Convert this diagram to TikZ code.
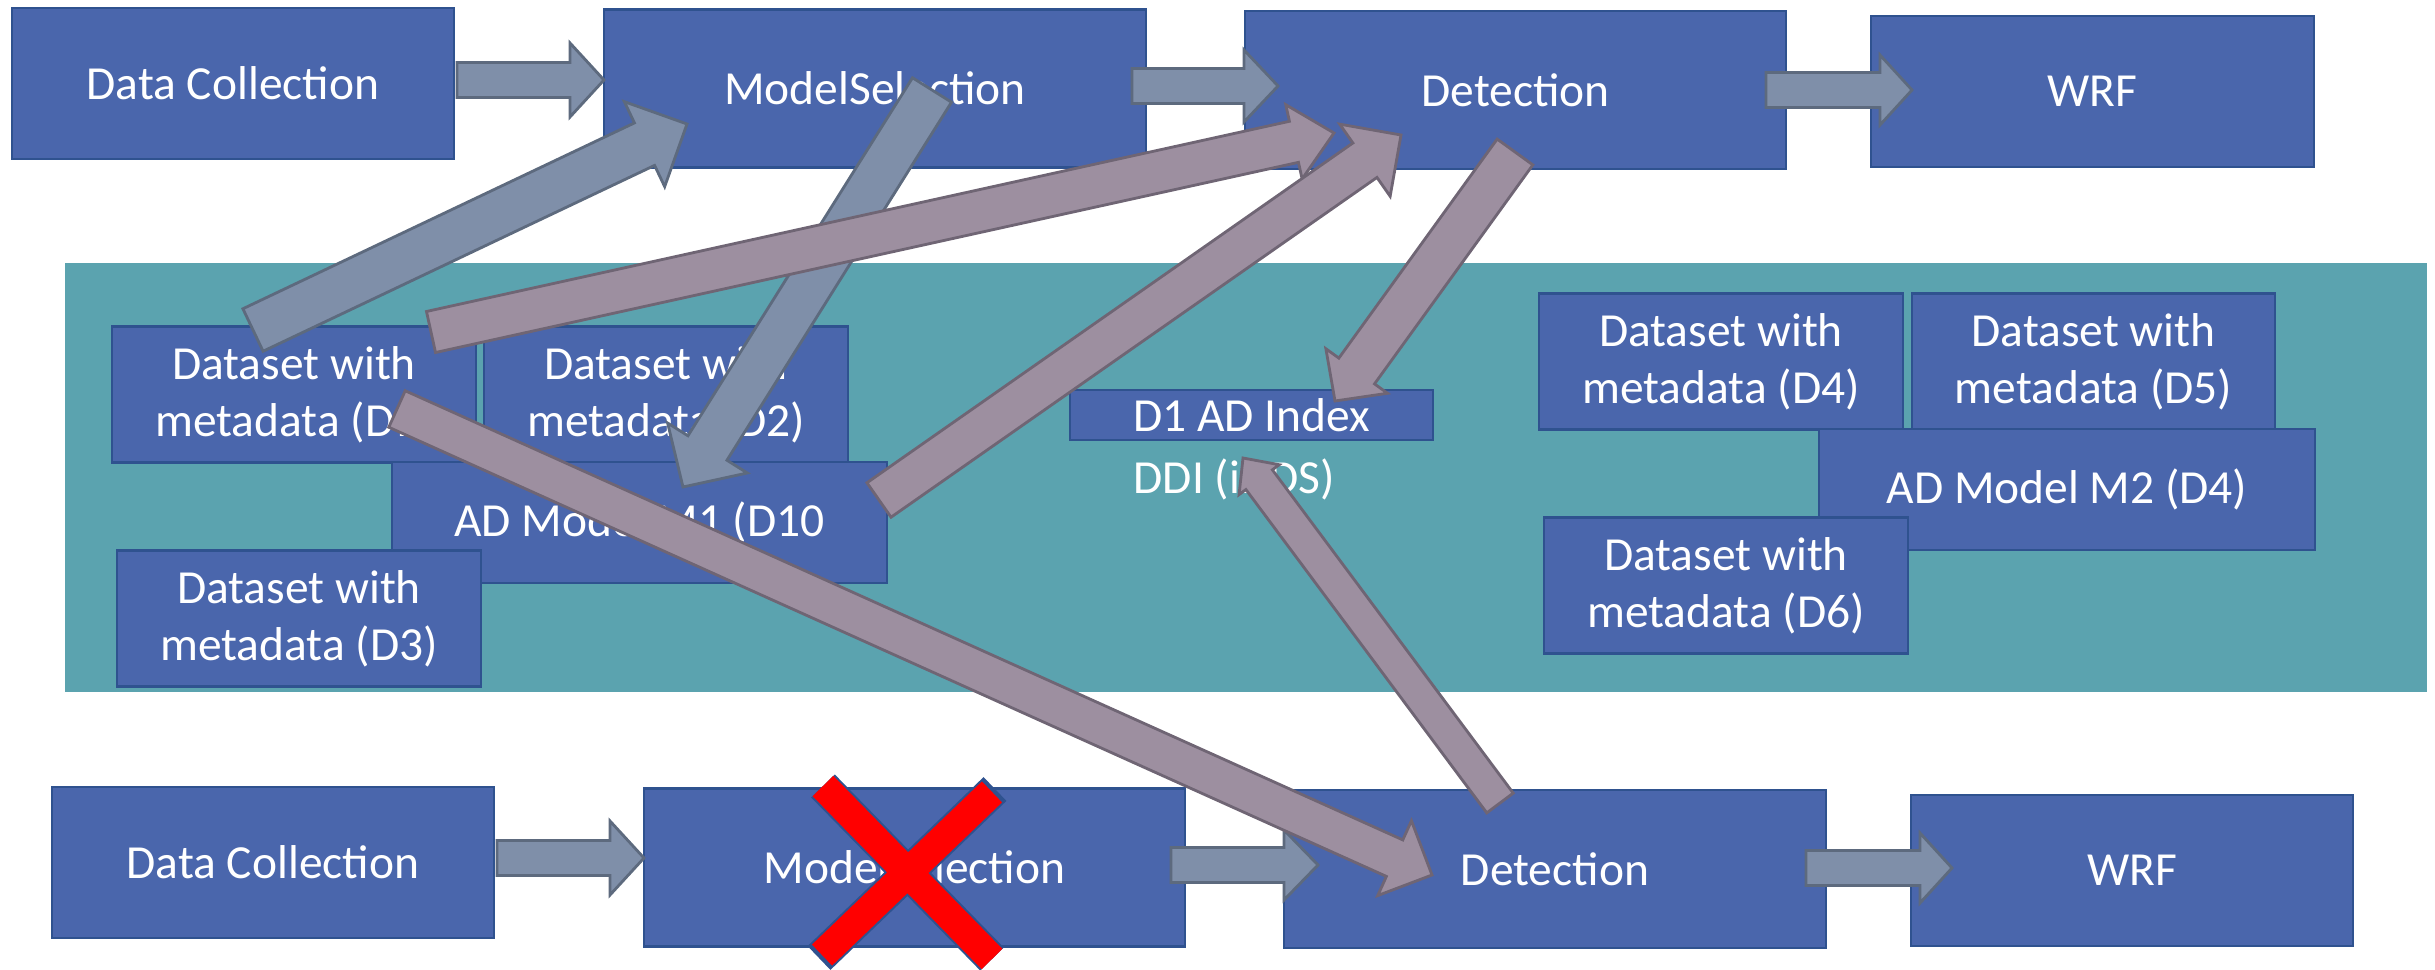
\documentclass[tikz,border=0pt]{standalone}
\usepackage{fontspec}
\setmainfont{Carlito}
\usetikzlibrary{calc}
\definecolor{boxblue}{HTML}{4A66AC}
\definecolor{boxedge}{HTML}{2F528F}
\definecolor{band}{HTML}{5BA3AF}
\definecolor{flowgrey}{HTML}{7F8FA9}
\definecolor{flowedge}{HTML}{5D6A7E}
\definecolor{linkmauve}{HTML}{9D8FA0}
\definecolor{linkedge}{HTML}{6F6574}
\definecolor{crossred}{HTML}{FF0000}
\tikzset{
  box/.style={draw=boxedge, line width=0.6pt, fill=boxblue, text=white, align=center, inner sep=0pt,
    font=\fontsize{13.5pt}{16.2pt}\selectfont},
  stage/.style={box, minimum width=4.42cm, minimum height=1.51cm},
  bigstage/.style={box, minimum width=5.41cm, minimum height=1.58cm},
  dset/.style={box, minimum width=3.63cm, minimum height=1.36cm},
  model/.style={box, minimum width=4.95cm, minimum height=1.21cm},
  flow/.style={draw=flowedge, line width=0.8pt, fill=flowgrey},
  link/.style={draw=linkedge, line width=0.8pt, fill=linkmauve},
  xout/.style={draw=boxedge, line width=0.33cm},
  xin/.style={draw=crossred, line width=0.29cm, shorten <=1.2pt, shorten >=1.2pt}
}
\def\blockarrow[#1](#2)(#3)(#4:#5:#6){%
  \coordinate (neck) at ($(#3)!#6!(#2)$);
  \draw[#1] ($(#2)!#4!-90:(#3)$) -- ($(neck)!#4!-90:(#3)$) -- ($(neck)!#5!-90:(#3)$) -- (#3)
    -- ($(neck)!#5!90:(#3)$) -- ($(neck)!#4!90:(#3)$) -- ($(#2)!#4!90:(#3)$) -- cycle;}

\begin{document}
\begin{tikzpicture}[x=0.01cm, y=-0.01cm]
	%%%%% START %%%%%
	\useasboundingbox (0,0) rectangle (2435,970);
	
	\node[fill=band, minimum width=23.60cm, minimum height=4.29cm, inner sep=0pt] (pool) at (1246,477.5) {};
	
	\node[stage] (dc1) at (233,83.5) {Data Collection};
	\node[bigstage] (ms1) at (875,88.5) {ModelSelection};
	\node[bigstage] (det1) at (1515.5,90) {Detection};
	\node[stage] (wrf1) at (2092.5,91.5) {WRF};
	
	\node[dset] (d1) at (294,394.5) {Dataset with\\metadata (D1)};
	\node[dset] (d2) at (666,394.5) {Dataset with\\metadata (D2)};
	\node[model] (m1) at (639.5,522.5) {AD Model M1 (D10};
	\node[dset] (d3) at (299,618.5) {Dataset with\\metadata (D3)};
	
	\node[box, minimum width=3.63cm, minimum height=0.50cm] (idx) at (1251.5,415) {D1 AD Index};
	\node[text=white, inner sep=0pt, anchor=base west, font=\fontsize{13.5pt}{16.2pt}\selectfont] (ddi) at (1133,493) {DDI (iDDS)};
	
	\node[dset] (d4) at (1721,361.5) {Dataset with\\metadata (D4)};
	\node[dset] (d5) at (2093.5,361.5) {Dataset with\\metadata (D5)};
	\node[model] (m2) at (2067,489.5) {AD Model M2 (D4)};
	\node[dset] (d6) at (1726,585.5) {Dataset with\\metadata (D6)};
	
	\node[stage] (dc2) at (273,862.5) {Data Collection};
	\node[bigstage] (ms2) at (914.5,867.5) {ModelSelection};
	\node[bigstage] (det2) at (1555,869) {Detection};
	\node[stage] (wrf2) at (2132,870.5) {WRF};
	
	% pipeline arrows
	\coordinate (f1s) at (457,80);   \coordinate (f1e) at (604,80);
	\coordinate (f2s) at (1132,86);  \coordinate (f2e) at (1278,86);
	\coordinate (f3s) at (1766,90);  \coordinate (f3e) at (1912,90);
	\coordinate (f4s) at (497,858);  \coordinate (f4e) at (644,858);
	\coordinate (f5s) at (1171,865); \coordinate (f5e) at (1318,865);
	\coordinate (f6s) at (1806,868); \coordinate (f6e) at (1952,868);
	\blockarrow[flow](f1s)(f1e)(0.175cm:0.37cm:0.34cm)
	\blockarrow[flow](f2s)(f2e)(0.175cm:0.36cm:0.34cm)
	\blockarrow[flow](f3s)(f3e)(0.175cm:0.35cm:0.32cm)
	\blockarrow[flow](f4s)(f4e)(0.175cm:0.37cm:0.34cm)
	\blockarrow[flow](f5s)(f5e)(0.175cm:0.35cm:0.34cm)
	\blockarrow[flow](f6s)(f6e)(0.175cm:0.35cm:0.32cm)
	
	% dataset / model links
	\coordinate (a1s) at (253,330);  \coordinate (a1e) at (687,124);
	\coordinate (a2s) at (932,90);   \coordinate (a2e) at (683,487);
	\blockarrow[flow](a1s)(a1e)(0.235cm:0.47cm:0.47cm)
	\blockarrow[flow](a2s)(a2e)(0.23cm:0.47cm:0.46cm)
	
	\coordinate (l1s) at (431,332);  \coordinate (l1e) at (1334,133);
	\coordinate (l2s) at (879,500);  \coordinate (l2e) at (1401,135);
	\coordinate (l3s) at (1515,152); \coordinate (l3e) at (1335,401);
	\coordinate (l4s) at (397,409);  \coordinate (l4e) at (1432,875);
	\coordinate (l5s) at (1500,803); \coordinate (l5e) at (1243,458);
	\blockarrow[link](l1s)(l1e)(0.21cm:0.38cm:0.41cm)
	\blockarrow[link](l2s)(l2e)(0.21cm:0.44cm:0.44cm)
	\blockarrow[link](l3s)(l3e)(0.22cm:0.38cm:0.37cm)
	\blockarrow[link](l4s)(l4e)(0.20cm:0.41cm:0.41cm)
	\blockarrow[link](l5s)(l5e)(0.165cm:0.25cm:0.27cm)
	
	% crossed out model selection
	\coordinate (x1) at (823,786); \coordinate (x2) at (992,959);
	\coordinate (x3) at (995,789); \coordinate (x4) at (819,958);
	\draw[xout] (x1) -- (x2) (x3) -- (x4);
	\draw[xin] (x1) -- (x2) (x3) -- (x4);
	
	%%%%% END %%%%%
\end{tikzpicture}
\end{document}
